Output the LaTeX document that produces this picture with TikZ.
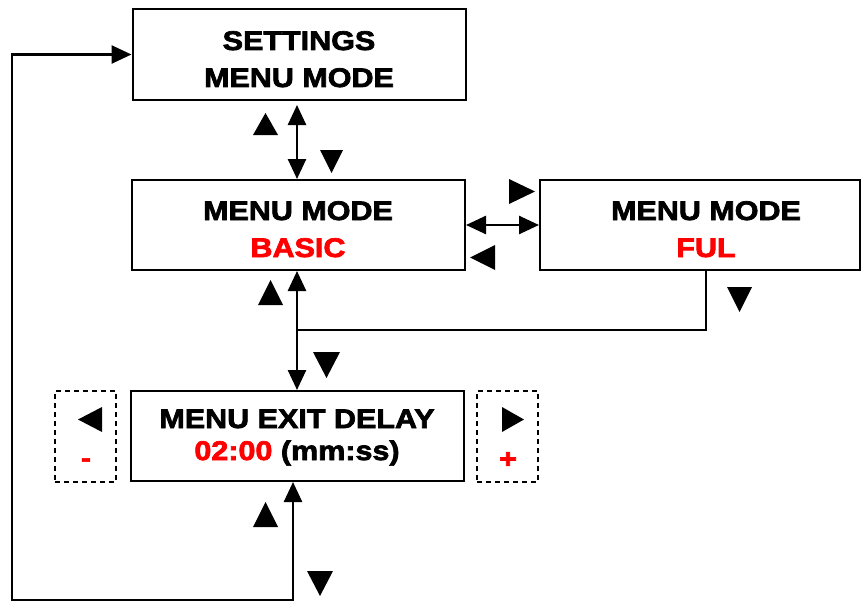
\documentclass[tikz,border=0pt]{standalone}
\usepackage{fontspec}
\usetikzlibrary{arrows.meta}
\newfontfamily\bk{Liberation Sans Bold}[FakeBold=2.6,FakeStretch=1.13]
\definecolor{myred}{RGB}{255,0,0}
\newcommand\trup[4]{\fill (#1,#4) -- (#3,#4) -- ({(#1+#3)/2},#2) -- cycle;}
\newcommand\trdn[4]{\fill (#1,#2) -- (#3,#2) -- ({(#1+#3)/2},#4) -- cycle;}
\newcommand\trrt[4]{\fill (#1,#2) -- (#1,#4) -- (#3,{(#2+#4)/2}) -- cycle;}
\newcommand\trlf[4]{\fill (#3,#2) -- (#3,#4) -- (#1,{(#2+#4)/2}) -- cycle;}
\begin{document}
\begin{tikzpicture}[x=1pt,y=-1pt,
  box/.style={draw,line width=2pt,inner sep=0pt},
  dbox/.style={draw,line width=1.6pt,dash pattern=on 5pt off 4pt,inner sep=0pt,minimum width=61pt,minimum height=91pt},
  txt/.style={font=\bk\fontsize{27}{27}\selectfont,anchor=base,inner sep=0pt},
  tip/.tip={Triangle[length=20pt,width=18pt]},
  dbl/.style={line width=2.6pt,tip-tip},
  ln/.style={line width=2.6pt}]
\useasboundingbox (0,0) rectangle (862,602);
% boxes
\node[box,minimum width=333pt,minimum height=91pt] (set) at (299,54.5) {};
\node[box,minimum width=333pt,minimum height=90pt] (basic) at (298.5,225) {};
\node[box,minimum width=320pt,minimum height=90pt] (ful) at (700,225) {};
\node[box,minimum width=333pt,minimum height=90pt] (exit) at (297.5,436) {};
\node[dbox] (minus) at (85.5,436.5) {};
\node[dbox] (plus) at (507.5,436.5) {};
% texts
\node[txt] (t1) at (299,50) {SETTINGS};
\node[txt] (t2) at (299,87) {MENU MODE};
\node[txt] (t3) at (298,220) {MENU MODE};
\node[txt,text=myred] (t4) at (298,257) {BASIC};
\node[txt] (t5) at (706,220) {MENU MODE};
\node[txt,text=myred] (t6) at (706,257) {FUL};
\node[txt] (t7) at (297,428) {MENU EXIT DELAY};
\node[txt] (t8) at (297,460) {\textcolor{myred}{02:00} (mm:ss)};
\node[txt,text=myred] (t9) at (86,467) {-};
\node[txt,text=myred] (t10) at (508,468) {+};
% connectors
\coordinate (j) at (297,330);
\coordinate (br) at (293,600);
\coordinate (bl) at (12,600);
\draw[dbl,shorten <=4pt] ([xshift=-2pt]set.south) -- ([xshift=-1.5pt]basic.south |- basic.north);
\draw[dbl] (basic.east) -- (ful.west);
\draw[dbl] ([xshift=-1.5pt]basic.south) -- ([xshift=-0.5pt]exit.north);
\draw[ln] ([xshift=6pt]ful.south) |- (j);
\draw[dbl] ([xshift=-4.5pt]exit.south) -- (br) -- (bl) |- (set.west);
% key triangles
\trup{253}{113}{278}{135}
\trdn{320}{150}{343}{173}
\trrt{509}{179}{535}{204}
\trlf{470}{245}{495}{270}
\trup{258}{280}{283}{305}
\trdn{727}{287}{752}{312}
\trdn{313}{352}{340}{378}
\trlf{78}{407}{102}{432}
\trrt{502}{407}{524}{432}
\trup{253}{502}{278}{527}
\trdn{307}{571}{333}{596}
\end{tikzpicture}
\end{document}
